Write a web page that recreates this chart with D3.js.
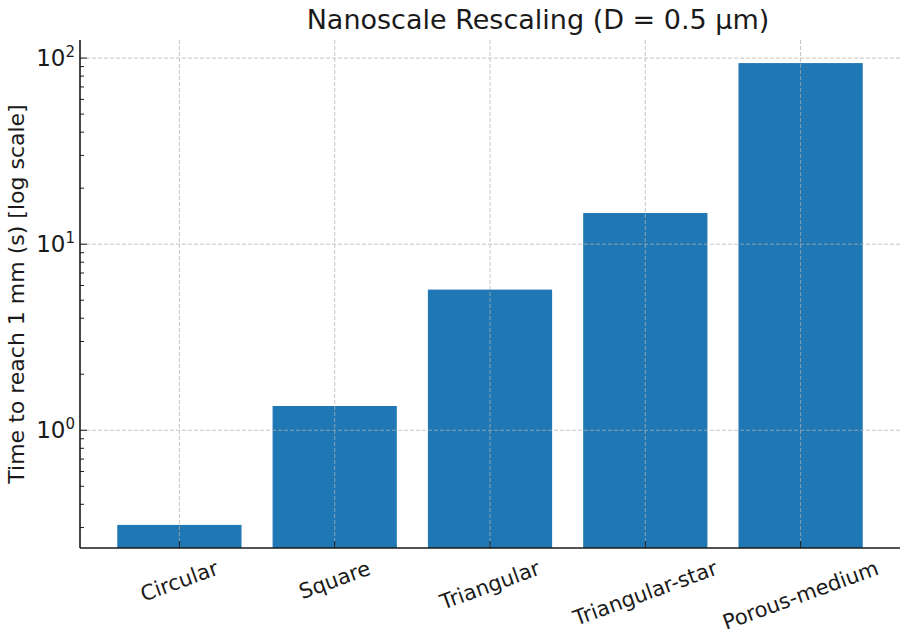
<!DOCTYPE html>
<html>
<head>
<meta charset="utf-8">
<script src="https://cdn.jsdelivr.net/npm/d3@7"></script>
<style>
  body { margin: 0; background: #fff; }
  text { font-family: "DejaVu Sans", sans-serif; fill: #1a1a1a; }
</style>
</head>
<body>
<div id="chart"></div>
<script>
// data
const categories = ["Circular", "Square", "Triangular", "Triangular-star", "Porous-medium"];
const times = [0.31, 1.35, 5.7, 14.7, 94];
const majorTicks = [1, 10, 100];
const tickExponents = ["0", "1", "2"];
const title = "Nanoscale Rescaling (D = 0.5 \u00b5m)";
const yLabel = "Time to reach 1 mm (s) [log scale]";

const W = 906, H = 637;
const margin = { top: 40, right: 6, bottom: 89, left: 80 };
const width = W - margin.left - margin.right;
const height = H - margin.top - margin.bottom;

const svg = d3.select("#chart").append("svg")
  .attr("width", W)
  .attr("height", H);

const g = svg.append("g")
  .attr("transform", "translate(" + margin.left + "," + margin.top + ")");

// matplotlib-like autoscale: 5% margin in log space
const lo = Math.log10(d3.min(times)), hi = Math.log10(d3.max(times));
const pad = (hi - lo) * 0.05;

const x = d3.scaleBand()
  .domain(categories)
  .range([0, width])
  .paddingInner(0.2)
  .paddingOuter(0.24);

const y = d3.scaleLog()
  .domain([Math.pow(10, lo - pad), Math.pow(10, hi + pad)])
  .range([height, 0]);

const data = categories.map((c, i) => ({ name: c, value: times[i] }));

// bars
g.selectAll(".bar")
  .data(data)
  .enter()
  .append("rect")
  .attr("class", "bar")
  .attr("x", d => x(d.name))
  .attr("width", x.bandwidth())
  .attr("y", d => y(d.value))
  .attr("height", d => height - y(d.value))
  .attr("fill", "#1f77b4");

// grid on top of bars
const grid = g.append("g")
  .attr("stroke", "#b0b0b0")
  .attr("stroke-opacity", 0.75)
  .attr("stroke-width", 1)
  .attr("stroke-dasharray", "4,2");

grid.selectAll(".hgrid")
  .data(majorTicks)
  .enter()
  .append("line")
  .attr("x1", 0)
  .attr("x2", width)
  .attr("y1", d => y(d))
  .attr("y2", d => y(d));

grid.selectAll(".vgrid")
  .data(categories)
  .enter()
  .append("line")
  .attr("x1", d => x(d) + x.bandwidth() / 2)
  .attr("x2", d => x(d) + x.bandwidth() / 2)
  .attr("y1", 0)
  .attr("y2", height);

// minor ticks (2..9 in each decade)
const [d0, d1] = y.domain();
const minor = [];
for (let e = Math.floor(Math.log10(d0)); e <= Math.ceil(Math.log10(d1)); e++) {
  for (let k = 2; k <= 9; k++) {
    const v = k * Math.pow(10, e);
    if (v >= d0 && v <= d1) minor.push(v);
  }
}

const ticks = g.append("g").attr("stroke", "#1a1a1a").attr("stroke-width", 1);

ticks.selectAll(".minor")
  .data(minor)
  .enter()
  .append("line")
  .attr("x1", 0).attr("x2", 4)
  .attr("y1", d => y(d)).attr("y2", d => y(d));

ticks.selectAll(".major")
  .data(majorTicks)
  .enter()
  .append("line")
  .attr("x1", 0).attr("x2", 7)
  .attr("y1", d => y(d)).attr("y2", d => y(d));

ticks.selectAll(".xtick")
  .data(categories)
  .enter()
  .append("line")
  .attr("x1", d => x(d) + x.bandwidth() / 2)
  .attr("x2", d => x(d) + x.bandwidth() / 2)
  .attr("y1", height).attr("y2", height - 7);

// spines
g.append("line")
  .attr("x1", 0).attr("x2", 0)
  .attr("y1", 0).attr("y2", height)
  .attr("stroke", "#1a1a1a").attr("stroke-width", 1.6);

g.append("line")
  .attr("x1", 0).attr("x2", width)
  .attr("y1", height).attr("y2", height)
  .attr("stroke", "#1a1a1a").attr("stroke-width", 1.6);

// y tick labels 10^n
const ylab = g.selectAll(".ylab")
  .data(majorTicks)
  .enter()
  .append("text")
  .attr("class", "ylab")
  .attr("x", -5)
  .attr("y", d => y(d) + 8)
  .attr("text-anchor", "end")
  .style("font-size", "23px");

ylab.append("tspan").text("10");
ylab.append("tspan")
  .attr("dy", -9)
  .style("font-size", "15px")
  .text((d, i) => tickExponents[i]);

// x tick labels rotated
const angle = 20 * Math.PI / 180;
g.selectAll(".xlab")
  .data(categories)
  .enter()
  .append("text")
  .attr("class", "xlab")
  .style("font-size", "21px")
  .attr("text-anchor", "middle")
  .attr("dominant-baseline", "central")
  .text(d => d)
  .each(function (d) {
    const L = this.getComputedTextLength();
    const h = 20;
    const bh = L * Math.sin(angle) + h * Math.cos(angle);
    const cx = x(d) + x.bandwidth() / 2;
    const cy = height + 10 + bh / 2;
    d3.select(this).attr("transform", "translate(" + cx + "," + cy + ") rotate(-20)");
  });

// y axis label
svg.append("text")
  .attr("transform", "translate(24," + (margin.top + height / 2) + ") rotate(-90)")
  .attr("text-anchor", "middle")
  .style("font-size", "22px")
  .text(yLabel);

// title
svg.append("text")
  .attr("x", 538)
  .attr("y", 29)
  .attr("text-anchor", "middle")
  .style("font-size", "27px")
  .text(title);
</script>
</body>
</html>
